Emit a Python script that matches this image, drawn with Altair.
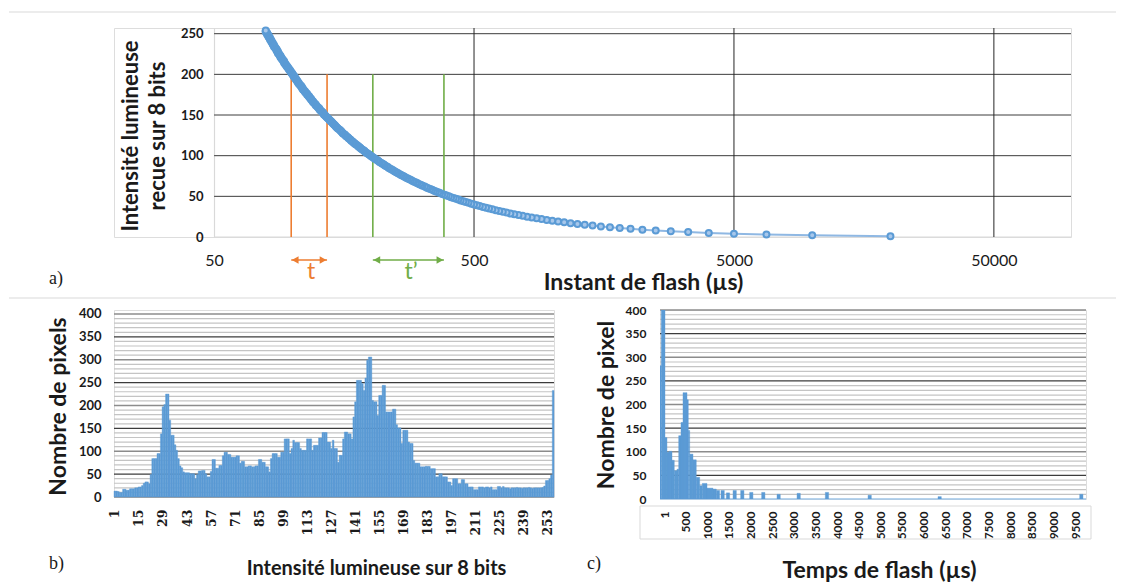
import altair as alt
import pandas as pd

BLUE = "#5B9BD5"
LIGHT_BLUE = "#A7C7EB"
ORANGE = "#ED7D31"
GREEN = "#70AD47"
SANS = "Lato"
SERIF = "Liberation Serif"
DARK_GRID = "#3c3c3c"
GRAY_GRID = "#8c8c8c"
MINOR_GRID = "#c4c4c4"
FRAME = "#d9d9d9"
TXT = "#1a1a1a"

# ---------------- (a) intensity vs flash instant ----------------
levels_a = list(range(1, 255))
flash_time_us = [
    20000, 10000, 6667, 5000, 4000, 3333, 2857, 2500, 2222, 2000,
    1818, 1667, 1538, 1429, 1333, 1250, 1176, 1111, 1053, 1000,
    952, 909, 870, 833, 800, 769, 741, 714, 690, 667,
    645, 625, 606, 588, 571, 556, 541, 526, 513, 500,
    488, 476, 465, 455, 444, 435, 426, 417, 408, 400,
    392, 385, 377, 370, 364, 357, 351, 345, 339, 333,
    328, 323, 317, 313, 308, 303, 299, 294, 290, 286,
    282, 278, 274, 270, 267, 263, 260, 256, 253, 250,
    247, 244, 241, 238, 235, 233, 230, 227, 225, 222,
    220, 217, 215, 213, 211, 208, 206, 204, 202, 200,
    198, 196, 194, 192, 190, 189, 187, 185, 183, 182,
    180, 179, 177, 175, 174, 172, 171, 169, 168, 167,
    165, 164, 163, 161, 160, 159, 157, 156, 155, 154,
    153, 152, 150, 149, 148, 147, 146, 145, 144, 143,
    142, 141, 140, 139, 138, 137, 136, 135, 134, 133,
    132, 132, 131, 130, 129, 128, 127, 127, 126, 125,
    124, 123, 123, 122, 121, 120, 120, 119, 118, 118,
    117, 116, 116, 115, 114, 114, 113, 112, 112, 111,
    110, 110, 109, 109, 108, 108, 107, 106, 106, 105,
    105, 104, 104, 103, 103, 102, 102, 101, 101, 100,
    100, 99, 99, 98, 98, 97, 97, 96, 96, 95,
    95, 94, 94, 93, 93, 93, 92, 92, 91, 91,
    90, 90, 90, 89, 89, 88, 88, 88, 87, 87,
    87, 86, 86, 85, 85, 85, 84, 84, 84, 83,
    83, 83, 82, 82, 82, 81, 81, 81, 80, 80,
    80, 79, 79, 79,
]
a_y_ticks = [0, 50, 100, 150, 200, 250]
a_x_ticks = [50, 500, 5000, 50000]
a_x_start = 50            # where the plotted axis begins
a_x_domain = [20.6, 99000]  # extended left so the panel lines up with panel b
a_y_domain = [0, 257]

marker_times = [99, 136, 204, 383]
marker_colors = [ORANGE, ORANGE, GREEN, GREEN]
marker_top = 200
interval_start = [99, 204]
interval_end = [136, 383]
interval_mid = [118, 286]
interval_label = ["t", "t\u2019"]
interval_color = [ORANGE, GREEN]

W_A, H_A = 957, 209
Y_AXIS_SHIFT = 100
xa = alt.Scale(type="log", domain=a_x_domain, nice=False)
ya = alt.Scale(domain=a_y_domain, nice=False, zero=False)

AX_XA = alt.Axis(
    values=a_x_ticks, format="d", labelFont=SANS, labelFontSize=16, labelColor=TXT,
    labelPadding=15, labelFlush=False, labelOverlap=False, domain=False,
    ticks=False, grid=False, title="Instant de flash (\u00b5s)",
    titleFont=SANS, titleFontSize=23, titleFontWeight="bold", titleColor=TXT,
    titleX=529, titleY=45, titleAlign="center", titleBaseline="middle")
AX_YA = alt.Axis(
    values=a_y_ticks, labelFont=SANS, labelFontSize=13, labelFontWeight="bold",
    labelColor=TXT, labelPadding=11, domain=True, domainColor=FRAME, domainWidth=1.2,
    offset=-Y_AXIS_SHIFT,
    ticks=False, grid=False, title=["Intensit\u00e9 lumineuse", "recue sur 8 bits"],
    titleFont=SANS, titleFontSize=22, titleFontWeight="bold", titleColor=TXT,
    titleX=-84, titleY=H_A / 2 + 3, titleAngle=270, titleAlign="center",
    titleBaseline="middle", titleLineHeight=27)

curve_df = pd.DataFrame({"time": flash_time_us, "intensity": levels_a})
hgrid_a = pd.DataFrame({"y": a_y_ticks[1:], "x0": a_x_start, "x1": a_x_domain[1]})
base_a = pd.DataFrame({"y": [0], "x0": [a_x_start], "x1": [a_x_domain[1]]})
vgrid_a = pd.DataFrame({"x": a_x_ticks[1:], "y0": a_y_domain[0], "y1": a_y_domain[1]})
markers_df = pd.DataFrame({"t": marker_times, "c": marker_colors, "y0": 0, "y1": marker_top})
interval_df = pd.DataFrame({"s": interval_start, "e": interval_end, "m": interval_mid,
                            "lab": interval_label, "c": interval_color})
one = pd.DataFrame({"k": [0]})

a_hgrid = alt.Chart(hgrid_a).mark_rule(color=DARK_GRID, strokeWidth=1).encode(
    x=alt.X("x0:Q", scale=xa, axis=AX_XA), x2="x1:Q", y=alt.Y("y:Q", scale=ya, axis=AX_YA))
a_base = alt.Chart(base_a).mark_rule(color=FRAME, strokeWidth=1.2).encode(
    x=alt.X("x0:Q", scale=xa, axis=AX_XA), x2="x1:Q", y=alt.Y("y:Q", scale=ya, axis=AX_YA))
a_vgrid = alt.Chart(vgrid_a).mark_rule(color="#262626", strokeWidth=1).encode(
    x=alt.X("x:Q", scale=xa, axis=AX_XA), y=alt.Y("y0:Q", scale=ya, axis=AX_YA), y2="y1:Q")
a_markers = alt.Chart(markers_df).mark_rule(strokeWidth=1.6).encode(
    x=alt.X("t:Q", scale=xa, axis=AX_XA), y=alt.Y("y0:Q", scale=ya, axis=AX_YA), y2="y1:Q",
    color=alt.Color("c:N", scale=None))
a_line = alt.Chart(curve_df).mark_line(color="#8FB8E3", strokeWidth=2).encode(
    x=alt.X("time:Q", scale=xa, axis=AX_XA),
    y=alt.Y("intensity:Q", scale=ya, axis=AX_YA),
    order="intensity:Q")
a_points = alt.Chart(curve_df).mark_point(
    shape="circle", filled=True, fill=LIGHT_BLUE, stroke=BLUE, strokeWidth=2, size=36,
    opacity=1).encode(
    x=alt.X("time:Q", scale=xa, axis=AX_XA), y=alt.Y("intensity:Q", scale=ya, axis=AX_YA))
a_arrow_line = alt.Chart(interval_df).mark_rule(strokeWidth=1.5).encode(
    x=alt.X("s:Q", scale=xa, axis=AX_XA), x2="e:Q", y=alt.value(H_A + 23),
    color=alt.Color("c:N", scale=None))
a_arrow_l = alt.Chart(interval_df).mark_point(
    shape="triangle-left", filled=True, size=60, opacity=1, xOffset=4).encode(
    x=alt.X("s:Q", scale=xa, axis=AX_XA), y=alt.value(H_A + 23),
    color=alt.Color("c:N", scale=None))
a_arrow_r = alt.Chart(interval_df).mark_point(
    shape="triangle-right", filled=True, size=60, opacity=1, xOffset=-4).encode(
    x=alt.X("e:Q", scale=xa, axis=AX_XA), y=alt.value(H_A + 23),
    color=alt.Color("c:N", scale=None))
a_arrow_txt = alt.Chart(interval_df).mark_text(
    font=SANS, fontSize=23, align="center", baseline="middle").encode(
    x=alt.X("m:Q", scale=xa, axis=AX_XA), y=alt.value(H_A + 35), text="lab:N",
    color=alt.Color("c:N", scale=None))
a_sep_top = alt.Chart(one).mark_rule(color=FRAME, strokeWidth=1).encode(
    x=alt.value(-105), x2=alt.value(1002), y=alt.value(-16))
a_sep_bot = alt.Chart(one).mark_rule(color=FRAME, strokeWidth=1).encode(
    x=alt.value(-105), x2=alt.value(1002), y=alt.value(270))
a_tag = alt.Chart(one).mark_text(
    text="a)", font=SERIF, fontSize=18, align="left", baseline="middle", color=TXT).encode(
    x=alt.value(-65), y=alt.value(251))

chart_a = alt.layer(
    a_hgrid, a_base, a_vgrid, a_markers, a_line, a_points,
    a_arrow_line, a_arrow_l, a_arrow_r, a_arrow_txt, a_sep_top, a_sep_bot, a_tag
).properties(width=W_A, height=H_A)

# ---------------- (b) histogram of 8-bit intensities ----------------
b_levels = list(range(1, 257))
b_counts = [
    13, 13, 12, 10, 10, 17, 17, 15, 15, 18,
    18, 18, 20, 20, 22, 22, 25, 30, 33, 33,
    29, 49, 84, 84, 84, 95, 95, 138, 197, 202,
    225, 225, 168, 135, 135, 114, 102, 84, 68, 64,
    55, 53, 53, 53, 51, 51, 51, 40, 49, 57,
    57, 58, 58, 51, 44, 44, 56, 82, 82, 63,
    63, 69, 69, 90, 98, 98, 93, 93, 87, 87,
    87, 90, 90, 74, 78, 78, 66, 66, 68, 68,
    66, 66, 68, 68, 82, 82, 76, 76, 66, 66,
    55, 84, 95, 95, 95, 87, 87, 98, 98, 127,
    127, 127, 95, 106, 124, 119, 119, 119, 106, 102,
    102, 102, 127, 127, 127, 102, 113, 113, 113, 129,
    129, 141, 141, 141, 120, 120, 106, 124, 106, 106,
    76, 91, 91, 127, 142, 142, 138, 138, 127, 175,
    208, 255, 255, 255, 248, 233, 260, 299, 306, 306,
    211, 208, 208, 178, 222, 222, 244, 244, 186, 186,
    186, 186, 192, 192, 158, 151, 151, 117, 146, 146,
    146, 120, 117, 117, 80, 74, 74, 74, 66, 66,
    66, 67, 67, 67, 62, 62, 62, 44, 44, 51,
    51, 44, 44, 44, 33, 33, 25, 40, 40, 40,
    29, 29, 38, 38, 29, 29, 22, 22, 22, 16,
    16, 16, 22, 22, 22, 20, 22, 22, 20, 22,
    16, 16, 16, 23, 23, 20, 23, 20, 20, 20,
    18, 20, 20, 20, 21, 20, 20, 19, 20, 20,
    20, 21, 20, 19, 20, 20, 20, 20, 20, 21,
    24, 36, 36, 40, 48, 233,
]
b_tick_values = [1, 15, 29, 43, 57, 71, 85, 99, 113, 127, 141, 155, 169, 183,
                 197, 211, 225, 239, 253]
hist_y_ticks = [0, 50, 100, 150, 200, 250, 300, 350, 400]
hist_major_dark = [50, 150, 250, 350]
hist_major_gray = [0, 100, 200, 300, 400]
hist_minor = [v for v in range(10, 400, 10) if v % 50 != 0]

W_B, H_B = 440, 187
xb = alt.Scale(domain=[0.5, 256.5], nice=False, zero=False)
yb = alt.Scale(domain=[0, 408.7], nice=False)
yh = alt.Scale(domain=[0, 400], nice=False)

AX_XB = alt.Axis(
    values=b_tick_values, labelAngle=270, labelFont="DejaVu Serif",
    labelFontWeight="bold", labelFontSize=12.5, labelColor=TXT, labelPadding=12,
    labelFlush=False, labelOverlap=False, domain=False, ticks=False, grid=False,
    title="Intensit\u00e9 lumineuse sur 8 bits", titleFont=SANS, titleFontSize=20,
    titleFontWeight="bold", titleColor=TXT, titleX=262, titleY=71,
    titleAlign="center", titleBaseline="middle")
AX_YB = alt.Axis(
    values=hist_y_ticks, labelFont=SANS, labelFontSize=13, labelFontWeight="bold",
    labelColor=TXT, labelPadding=13, domain=False, ticks=False, grid=False,
    title="Nombre de pixels", titleFont=SANS, titleFontSize=23, titleFontWeight="bold",
    titleColor=TXT, titleX=-56, titleY=96, titleAngle=270, titleAlign="center",
    titleBaseline="middle")

b_df = pd.DataFrame({"level": b_levels, "count": b_counts})
b_df["lo"] = b_df["level"] - 0.5
b_df["hi"] = b_df["level"] + 0.5
b_df["base"] = 0


def hist_grid(values, color, width, scale, axis):
    return alt.Chart(pd.DataFrame({"y": values})).mark_rule(
        color=color, strokeWidth=width).encode(
        y=alt.Y("y:Q", scale=scale, axis=axis))


b_bars = alt.Chart(b_df).mark_rect(color=BLUE, stroke=BLUE, strokeWidth=0.4).encode(
    x=alt.X("lo:Q", scale=xb, axis=AX_XB), x2="hi:Q",
    y=alt.Y("count:Q", scale=yb, axis=AX_YB), y2="base:Q")
b_spacer = alt.Chart(one).mark_rule(strokeOpacity=0, strokeWidth=1).encode(
    x=alt.value(-105), x2=alt.value(447), y=alt.value(-10))
b_tag = alt.Chart(one).mark_text(
    text="b)", font=SERIF, fontSize=18, align="left", baseline="middle", color=TXT).encode(
    x=alt.value(-65), y=alt.value(254))

chart_b = alt.layer(
    hist_grid(hist_minor, MINOR_GRID, 1.2, yb, AX_YB),
    hist_grid(hist_major_gray, GRAY_GRID, 1.3, yb, AX_YB),
    hist_grid(hist_major_dark, DARK_GRID, 1.1, yb, AX_YB),
    b_bars, b_spacer, b_tag
).properties(width=W_B, height=H_B)

# ---------------- (c) histogram of flash times ----------------
c_bin_start = [-92, -62, 23, 69, 116, 185, 238, 300, 340, 393,
               439, 532, 562, 594, 670, 746, 825, 885, 994, 1132,
               1210, 1318, 1441, 1596, 1772, 1980, 2257, 2612, 3075, 3729,
               4716, 6333, 9607]
c_bin_end = [-62, 23, 69, 116, 185, 238, 300, 340, 393, 439,
             532, 562, 594, 670, 746, 825, 885, 994, 1132, 1209,
             1286, 1394, 1517, 1672, 1848, 2056, 2333, 2688, 3151, 3805,
             4792, 6409, 9683]
c_count = [282, 400, 130, 99, 101, 82, 60, 63, 134, 162,
           225, 210, 145, 95, 83, 46, 28, 33, 23, 21,
           18, 18, 13, 18, 18, 14, 14, 10, 12, 14,
           8, 5, 10]
c_tick_values = [1, 500, 1000, 1500, 2000, 2500, 3000, 3500, 4000, 4500, 5000,
                 5500, 6000, 6500, 7000, 7500, 8000, 8500, 9000, 9500]
c_x_domain = [-92, 9753]

W_C, H_C = 426, 189
xc = alt.Scale(domain=c_x_domain, nice=False, zero=False)

AX_XC = alt.Axis(
    values=c_tick_values, format="d", labelAngle=270, labelFont=SANS,
    labelFontWeight="bold", labelFontSize=12, labelColor=TXT, labelPadding=12,
    labelFlush=False, labelOverlap=False, domain=False, ticks=False, grid=False,
    title="Temps de flash (\u00b5s)", titleFont=SANS, titleFontSize=23,
    titleFontWeight="bold", titleColor=TXT, titleX=219, titleY=71,
    titleAlign="center", titleBaseline="middle")
AX_YC = alt.Axis(
    values=hist_y_ticks, labelFont=SANS, labelFontSize=12, labelFontWeight="bold",
    labelColor=TXT, labelPadding=14, domain=False, ticks=False, grid=False,
    title="Nombre de pixel", titleFont=SANS, titleFontSize=23, titleFontWeight="bold",
    titleColor=TXT, titleX=-54, titleY=H_C / 2, titleAngle=270, titleAlign="center",
    titleBaseline="middle")

c_df = pd.DataFrame({"s": c_bin_start, "e": c_bin_end, "n": c_count})
c_df["base"] = 0

c_bars = alt.Chart(c_df).mark_rect(color=BLUE, stroke=BLUE, strokeWidth=0.4, clip=True).encode(
    x=alt.X("s:Q", scale=xc, axis=AX_XC), x2="e:Q",
    y=alt.Y("n:Q", scale=yh, axis=AX_YC), y2="base:Q")
c_baseline = alt.Chart(pd.DataFrame({"y": [0]})).mark_rule(
    color="#9DC3E6", strokeWidth=1.5).encode(y=alt.Y("y:Q", scale=yh, axis=AX_YC))
c_box = alt.Chart(one).mark_rect(fill=None, stroke=FRAME, strokeWidth=1).encode(
    x=alt.value(-20), x2=alt.value(431), y=alt.value(196), y2=alt.value(229))
c_spacer = alt.Chart(one).mark_rule(strokeOpacity=0, strokeWidth=1).encode(
    x=alt.value(-97), x2=alt.value(0), y=alt.value(-10))
c_tag = alt.Chart(one).mark_text(
    text="c)", font=SERIF, fontSize=18, align="left", baseline="middle", color=TXT).encode(
    x=alt.value(-73), y=alt.value(254))

chart_c = alt.layer(
    hist_grid(hist_minor, MINOR_GRID, 1.2, yh, AX_YC),
    hist_grid(hist_major_gray[1:], GRAY_GRID, 1.3, yh, AX_YC),
    hist_grid(hist_major_dark, DARK_GRID, 1.1, yh, AX_YC),
    c_baseline, c_bars, c_box, c_spacer, c_tag
).properties(width=W_C, height=H_C)

bottom = alt.concat(chart_b, chart_c, columns=2, spacing=0, align="none")
chart = alt.concat(chart_a, bottom, columns=1, spacing=0, align="none").properties(
    padding={"left": 0, "top": 3, "right": 0, "bottom": 0}
).configure_view(stroke=None).configure(background="white")

chart.save("out.html", embed_options={"renderer": "svg", "actions": False})
